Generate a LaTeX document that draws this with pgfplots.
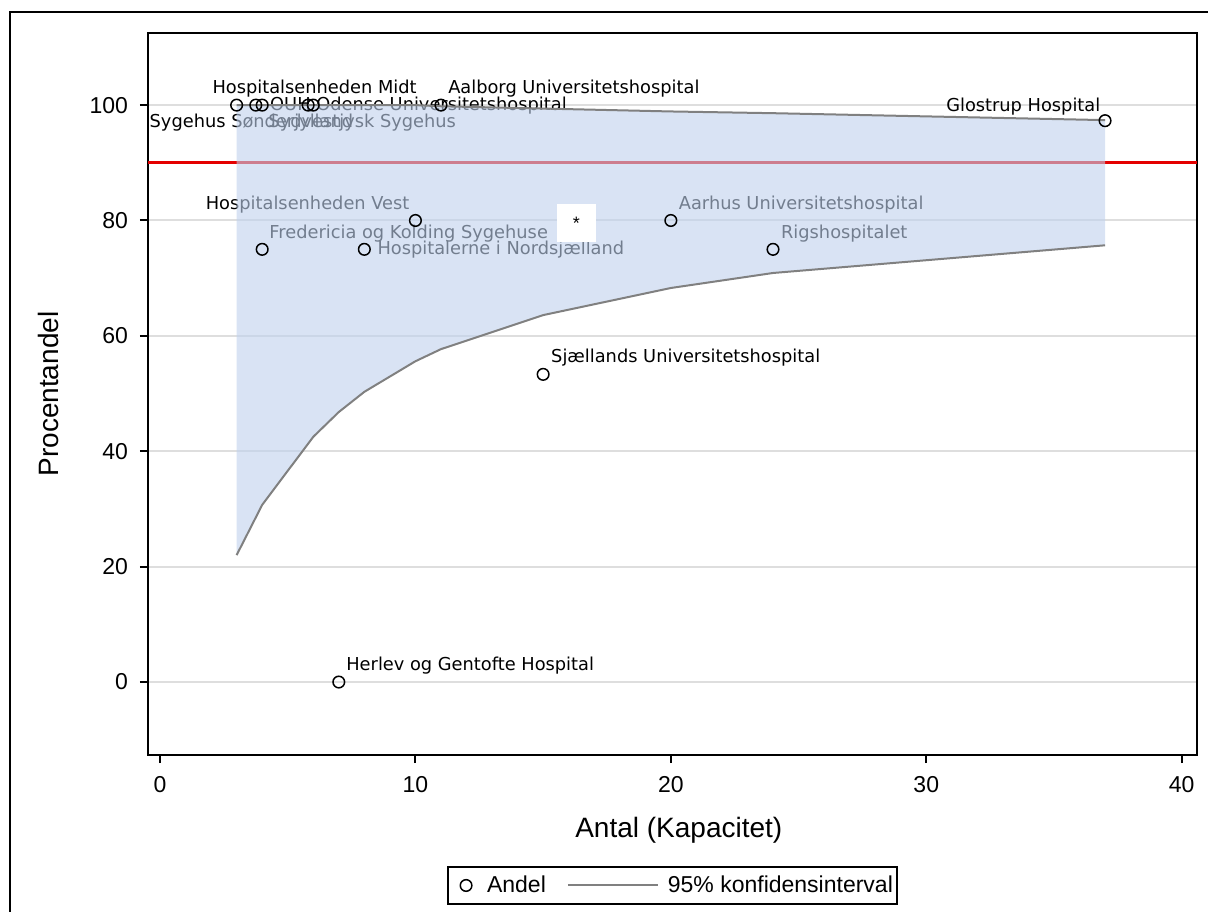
\documentclass[border=0pt]{standalone}
\usepackage{pgfplots}
\pgfplotsset{compat=1.18}
\usepackage{fontspec}
\setmainfont{Liberation Sans}
\newfontfamily\dv{DejaVu Sans}
\definecolor{bandc}{rgb}{0.75,0.82,0.93}
\definecolor{gridc}{RGB}{222,222,222}
\definecolor{refred}{RGB}{228,0,0}
\definecolor{linec}{RGB}{128,128,128}
\pgfplotsset{
 andelimg/.style={legend image code/.code={\path[draw=none] (0pt,0pt) -- (17.5pt,0pt); \draw[black,line width=0.75pt] (9pt,0pt) circle (2.9pt);}},
 lineimg/.style={legend image code/.code={\path[draw=none] (0pt,0pt) -- (48pt,0pt); \draw[linec,line width=1pt] (0pt,0pt) -- (45pt,0pt);}}
}
\begin{document}
\begin{tikzpicture}[x=1pt,y=1pt]
\useasboundingbox (0,0) rectangle (604,455.5);
\draw[line width=1pt] (5,-2) -- (5,449.5) -- (606,449.5);
\begin{axis}[
 at={(74pt,78pt)}, anchor=south west,
 width=524.5pt, height=361pt, scale only axis,
 xmin=-0.47, xmax=40.6, ymin=-12.65, ymax=112.5,
 xtick={0,10,...,40}, ytick={0,20,...,100},
 tick align=outside, xtick pos=bottom, ytick pos=left,
 major tick length=4pt,
 tick style={black, line width=1pt},
 axis line style={line width=1pt},
 ymajorgrids, grid style={gridc, line width=1pt},
 ticklabel style={font=\fontsize{11.5}{13}\selectfont},
 yticklabel style={xshift=-2.5pt},
 xticklabel style={yshift=-3pt},
 /pgf/number format/assume math mode=true,
 xlabel={Antal (Kapacitet)}, ylabel={Procentandel},
 label style={font=\fontsize{14}{16}\selectfont},
 xlabel style={at={(axis description cs:0.506,-0.104)}, anchor=center},
 ylabel style={at={(axis description cs:-0.0953,0.5)}, anchor=center},
 clip=false,
 legend columns=2,
 legend style={at={(axis description cs:0.5,-0.1807)}, anchor=center, draw=black, line width=1pt, font=\fontsize{11.5}{13}\selectfont, inner xsep=0pt, inner ysep=2.5pt,
   /tikz/every even column/.append style={column sep=8.5pt}},
 legend cell align=left,
]
\addplot[refred, line width=1.5pt, forget plot] coordinates {(-0.47,90) (40.6,90)};
\addplot[only marks, mark=o, mark size=2.9pt, mark options={line width=0.75pt, black}, andelimg] coordinates {
(3,100) (3.75,100) (4,100) (5.8,100) (6,100) (11,100) (4,75) (7,0) (8,75) (10,80) (15,53.33) (20,80) (24,75) (37,97.3)};
\addlegendentry{Andel}
\begin{scope}[every node/.style={inner sep=0pt, font=\dv\fontsize{8.9}{10}\selectfont}]
\node[anchor=west] at (axis cs:-0.42,96.9) {Sygehus Sønderjylland};
\node[anchor=west] at (axis cs:4.23,96.9) {Sydvestjysk Sygehus};
\node[anchor=west] at (axis cs:2.04,102.8) {Hospitalsenheden Midt};
\node[anchor=west] at (axis cs:4.3,100) {OUH Odense Universitetshospital};
\node[anchor=west] at (axis cs:11.27,102.8) {Aalborg Universitetshospital};
\node[anchor=east] at (axis cs:36.83,99.7) {Glostrup Hospital};
\node[anchor=east] at (axis cs:9.78,82.8) {Hospitalsenheden Vest};
\node[anchor=west] at (axis cs:4.27,77.8) {Fredericia og Kolding Sygehuse};
\node[anchor=west] at (axis cs:8.5,74.9) {Hospitalerne i Nordsjælland};
\node[anchor=west] at (axis cs:20.3,82.8) {Aarhus Universitetshospital};
\node[anchor=west] at (axis cs:24.3,77.8) {Rigshospitalet};
\node[anchor=west] at (axis cs:15.3,56.2) {Sjællands Universitetshospital};
\node[anchor=west] at (axis cs:7.28,2.9) {Herlev og Gentofte Hospital};
\end{scope}
\addplot[fill=bandc, fill opacity=0.6, draw=none, forget plot] coordinates {
(3,100) (4,100) (6,100) (7,100) (8,100) (10,100) (11,99.8) (15,99.4) (20,98.9) (24,98.6) (37,97.4)
(37,75.7) (24,70.9) (20,68.3) (15,63.6) (11,57.7) (10,55.6) (8,50.3) (7,46.8) (6,42.5) (4,30.7) (3,22.0)} -- cycle;
\node[fill=white, minimum width=19.5pt, minimum height=19pt, inner sep=0pt, font=\fontsize{9}{10}\selectfont] at (axis cs:16.3,79.5) {*};
\addplot[linec, line width=1pt, lineimg] coordinates {
(3,100) (4,100) (6,100) (7,100) (8,100) (10,100) (11,99.8) (15,99.4) (20,98.9) (24,98.6) (37,97.4)};
\addlegendentry{95\% konfidensinterval\hspace{5pt}}
\addplot[linec, line width=1pt, forget plot] coordinates {
(3,22.0) (4,30.7) (6,42.5) (7,46.8) (8,50.3) (10,55.6) (11,57.7) (15,63.6) (20,68.3) (24,70.9) (37,75.7)};
\end{axis}
\end{tikzpicture}
\end{document}
